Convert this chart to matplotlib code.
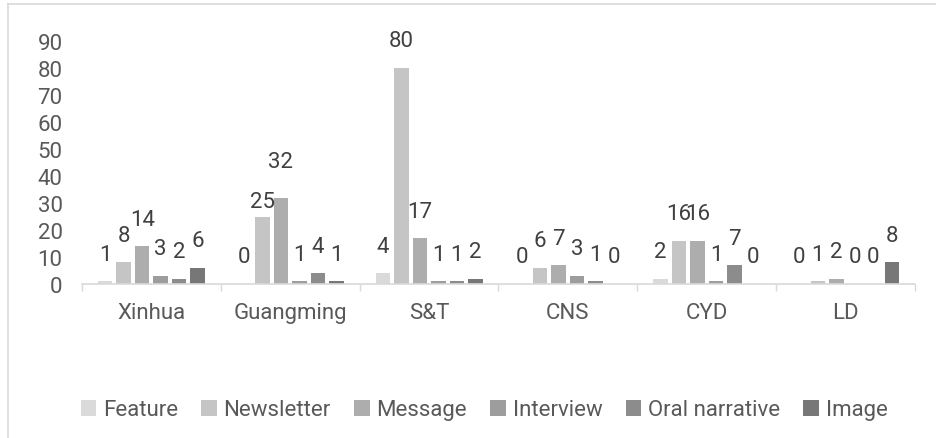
import numpy as np
import matplotlib
matplotlib.use("Agg")
from matplotlib import pyplot as plt
from matplotlib.lines import Line2D
from matplotlib.patches import Patch

categories = ["Xinhua", "Guangming", "S&T", "CNS", "CYD", "LD"]
series = ["Feature", "Newsletter", "Message", "Interview", "Oral narrative", "Image"]
feature = [1, 0, 4, 0, 2, 0]
newsletter = [8, 25, 80, 6, 16, 1]
message = [14, 32, 17, 7, 16, 2]
interview = [3, 1, 1, 3, 1, 0]
oral = [2, 4, 1, 1, 7, 0]
image = [6, 1, 2, 0, 0, 8]
values = [feature, newsletter, message, interview, oral, image]
colors = ["#dadada", "#c5c5c5", "#adadad", "#9d9d9d", "#8c8c8c", "#777777"]

# labels that were nudged by hand in the original (points above bar top)
label_nudge = {("Newsletter", "Guangming"): 11, ("Message", "Guangming"): 26}

plt.rcParams['font.family'] = ['Roboto', 'DejaVu Sans']
fs = 16

fig = plt.figure(figsize=(9.36, 4.39), dpi=100)
ax = fig.add_axes([82/936, 1 - 285/439, 833/936, 243/439])

x = np.arange(len(categories)) + 0.5
step = 0.1333
width = 0.1045
for j, (name, vals, c) in enumerate(zip(series, values, colors)):
    pos = x + (j - 2.5) * step
    ax.bar(pos, vals, width, color=c, label=name)
    for cat, px, v in zip(categories, pos, vals):
        dy = label_nudge.get((name, cat), 19.5)
        ax.annotate(str(v), (px, v), xytext=(0, dy), textcoords='offset points',
                    ha='center', va='center', fontsize=fs, color='#404040')

ax.set_xlim(0, 6)
ax.set_ylim(0, 90)
ax.set_yticks(range(0, 91, 10))
ax.tick_params(axis='y', length=0, pad=14, labelsize=fs, labelcolor='#595959')
ax.set_xticks(x)
ax.set_xticklabels(categories)
ax.tick_params(axis='x', which='major', length=0, pad=13, labelsize=fs, labelcolor='#595959')
ax.set_xticks(np.arange(0, 7), minor=True)
ax.tick_params(axis='x', which='minor', length=5, color='#d9d9d9', width=1)
for s in ['top', 'right', 'left']:
    ax.spines[s].set_visible(False)
ax.spines['bottom'].set_color('#d9d9d9')
ax.spines['bottom'].set_linewidth(1.2)
for t in ax.texts:
    t.set_clip_on(False)

# chart area border
fig.add_artist(Line2D([8/936, 1], [1 - 5/439, 1 - 5/439], color='#d9d9d9', lw=1.2))
fig.add_artist(Line2D([8/936, 8/936], [0, 1 - 5/439], color='#d9d9d9', lw=1.2))

handles = [Patch(facecolor=c, edgecolor='none') for c in colors]
fig.legend(handles, series, loc='center', bbox_to_anchor=(484/936, 1 - 411/439),
           ncol=6, frameon=False, fontsize=fs, labelcolor='#595959',
           handlelength=0.7, handleheight=0.7, handletextpad=0.3, columnspacing=1.05)

fig.savefig("out.png", dpi=100)
